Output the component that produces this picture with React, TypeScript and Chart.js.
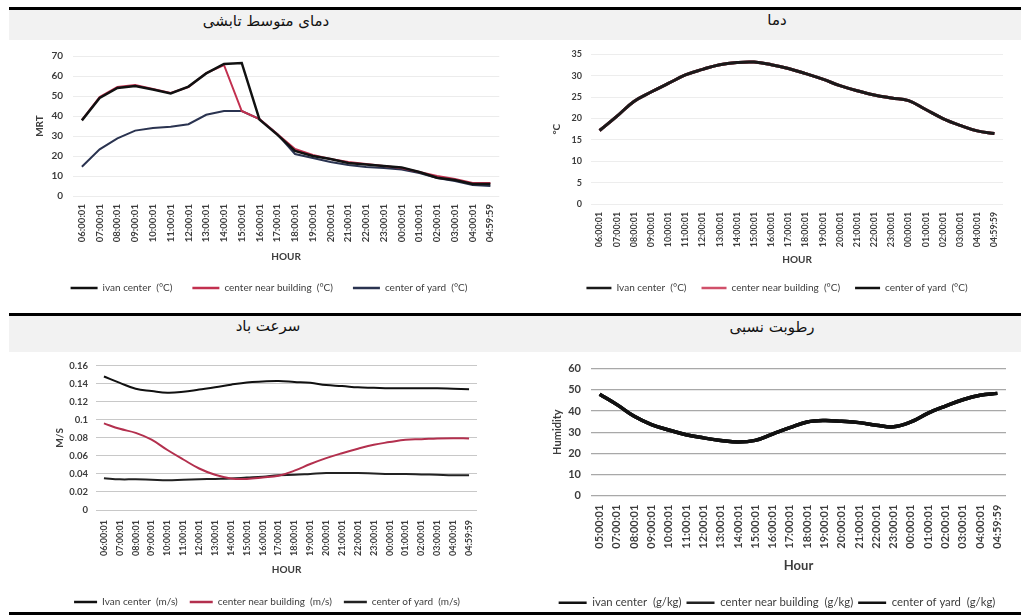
import React, { useEffect, useRef } from "react";
import { Chart, registerables } from "chart.js";

Chart.register(...registerables);

// ---------- data ----------
const hours = [
  "06:00:01", "07:00:01", "08:00:01", "09:00:01", "10:00:01", "11:00:01",
  "12:00:01", "13:00:01", "14:00:01", "15:00:01", "16:00:01", "17:00:01",
  "18:00:01", "19:00:01", "20:00:01", "21:00:01", "22:00:01", "23:00:01",
  "00:00:01", "01:00:01", "02:00:01", "03:00:01", "04:00:01", "04:59:59",
];
const hoursHumidity = [
  "05:00:01", "07:00:01", "08:00:01", "09:00:01", "10:00:01", "11:00:01",
  "12:00:01", "13:00:01", "14:00:01", "15:00:01", "16:00:01", "17:00:01",
  "18:00:01", "19:00:01", "20:00:01", "21:00:01", "22:00:01", "23:00:01",
  "00:00:01", "01:00:01", "02:00:01", "03:00:01", "04:00:01", "04:59:59",
];

// Mean radiant temperature (°C)
const mrtIvan = [37.8, 49, 54, 55, 53.2, 51.3, 54.7, 61.3, 66, 66.5, 38.2, 30.7, 22.5, 20, 18.5, 16.5, 15.7, 15, 14.3, 12, 9.1, 8, 6, 6];
const mrtNear = [38, 49.5, 54.5, 55.5, 53.5, 51.5, 54.5, 61.5, 65.5, 42.5, 38.5, 31, 23.5, 20.5, 18.5, 17, 16, 15, 14, 12, 10, 8.5, 6.5, 6.5];
const mrtYard = [14.6, 23.3, 28.8, 32.7, 34, 34.6, 35.9, 40.6, 42.5, 42.5, 38.5, 31, 21, 19, 17, 15.5, 14.5, 14, 13.2, 11.5, 9, 7.5, 5.5, 5];

// Air temperature (°C) – the three points coincide
const tempIvan = [17.2, 20.5, 24, 26.2, 28.2, 30.2, 31.5, 32.6, 33.1, 33.2, 32.6, 31.7, 30.5, 29.2, 27.7, 26.5, 25.5, 24.8, 24.2, 22.1, 20, 18.4, 17.1, 16.5];
const tempNear = [17.2, 20.5, 24, 26.2, 28.2, 30.2, 31.5, 32.6, 33.1, 33.2, 32.6, 31.7, 30.5, 29.2, 27.7, 26.5, 25.5, 24.8, 24.2, 22.1, 20, 18.4, 17.1, 16.5];
const tempYard = [17.2, 20.5, 24, 26.2, 28.2, 30.2, 31.5, 32.6, 33.1, 33.2, 32.6, 31.7, 30.5, 29.2, 27.7, 26.5, 25.5, 24.8, 24.2, 22.1, 20, 18.4, 17.1, 16.5];

// Wind speed (m/s)
const windIvan = [0.148, 0.141, 0.1345, 0.132, 0.130, 0.131, 0.1335, 0.136, 0.139, 0.1415, 0.1425, 0.143, 0.142, 0.141, 0.1385, 0.1375, 0.136, 0.1355, 0.135, 0.135, 0.135, 0.135, 0.1345, 0.134];
const windNear = [0.096, 0.090, 0.0855, 0.078, 0.0665, 0.056, 0.046, 0.039, 0.035, 0.0345, 0.036, 0.038, 0.0436, 0.051, 0.0575, 0.063, 0.068, 0.0724, 0.0753, 0.078, 0.0785, 0.0793, 0.0796, 0.0793];
const windYard = [0.0353, 0.034, 0.034, 0.0335, 0.033, 0.0335, 0.034, 0.0345, 0.035, 0.036, 0.037, 0.0385, 0.039, 0.040, 0.041, 0.041, 0.041, 0.0405, 0.040, 0.040, 0.0395, 0.039, 0.0385, 0.0385];

// Humidity – the three points coincide
const humIvan = [47.9, 43, 37.5, 33.6, 31, 28.8, 27.3, 26.1, 25.3, 26.1, 29.1, 32.1, 34.8, 35.5, 35.1, 34.5, 33.3, 32.5, 34.8, 39, 42.3, 45.3, 47.4, 48.3];
const humNear = [47.9, 43, 37.5, 33.6, 31, 28.8, 27.3, 26.1, 25.3, 26.1, 29.1, 32.1, 34.8, 35.5, 35.1, 34.5, 33.3, 32.5, 34.8, 39, 42.3, 45.3, 47.4, 48.3];
const humYard = [47.9, 43, 37.5, 33.6, 31, 28.8, 27.3, 26.1, 25.3, 26.1, 29.1, 32.1, 34.8, 35.5, 35.1, 34.5, 33.3, 32.5, 34.8, 39, 42.3, 45.3, 47.4, 48.3];

const titleMrt = "دمای متوسط تابشی";
const titleTemp = "دما";
const titleWind = "سرعت باد";
const titleHum = "رطوبت نسبی";

// ---------- chart panel ----------
type Series = { label: string; data: number[]; color: string; width: number };
type Cfg = {
  left: number; top: number; width: number; height: number;
  labels: string[];
  series: Series[];
  yMin: number; yMax: number; yStep: number;
  yFormat?: (v: number) => string;
  yTitle: string; xTitle: string;
  yTitlePad: number; xTitlePad: number;
  yTitleSize: number; xTitleSize: number;
  yScaleW: number; xScaleH: number;
  pad: { top: number; right: number; bottom: number; left: number };
  yTickSize: number; xTickSize: number; yTickPad: number; xTickPad: number;
  gridColor: string; gridWidth: number;
  legendSize: number; legendPad: number; legendBox: number;
  tension: number;
};

const FONT = "Lato, 'Open Sans', sans-serif";
const TXT = "#3c3c3c";

function ChartPanel({ cfg }: { cfg: Cfg }) {
  const ref = useRef<HTMLCanvasElement | null>(null);
  useEffect(() => {
    if (!ref.current) return;
    const chart = new Chart(ref.current, {
      type: "line",
      data: {
        labels: cfg.labels,
        datasets: cfg.series.map((s) => ({
          label: s.label,
          data: s.data,
          borderColor: s.color,
          backgroundColor: s.color,
          borderWidth: s.width,
          pointRadius: 0,
          tension: cfg.tension,
          fill: false,
        })),
      },
      options: {
        responsive: false,
        animation: false,
        devicePixelRatio: 1,
        layout: { padding: cfg.pad },
        plugins: {
          tooltip: { enabled: false },
          legend: {
            position: "bottom",
            labels: {
              boxWidth: cfg.legendBox,
              boxHeight: 2.5,
              padding: cfg.legendPad,
              color: TXT,
              font: { family: FONT, size: cfg.legendSize },
              generateLabels: (c: any) => {
                const items = Chart.defaults.plugins.legend.labels.generateLabels(c);
                return items.map((it: any) => ({ ...it, lineWidth: 0 }));
              },
            },
          },
        },
        scales: {
          x: {
            offset: true,
            grid: { display: false, drawTicks: false },
            border: { display: false },
            ticks: {
              autoSkip: false,
              minRotation: 90,
              maxRotation: 90,
              padding: cfg.xTickPad,
              color: TXT,
              font: { family: FONT, size: cfg.xTickSize, weight: "bold" },
            },
            title: {
              display: true,
              text: cfg.xTitle,
              color: TXT,
              font: { family: FONT, size: cfg.xTitleSize, weight: "bold" },
              padding: { top: 0, bottom: cfg.xTitlePad },
            },
            afterFit: (s: any) => { s.height = cfg.xScaleH; },
          },
          y: {
            min: cfg.yMin,
            max: cfg.yMax,
            grid: { color: cfg.gridColor, lineWidth: cfg.gridWidth, drawTicks: false },
            border: { display: false },
            ticks: {
              stepSize: cfg.yStep,
              padding: cfg.yTickPad,
              color: TXT,
              font: { family: FONT, size: cfg.yTickSize, weight: "bold" },
              callback: (v: any) => (cfg.yFormat ? cfg.yFormat(Number(v)) : String(v)),
            },
            title: {
              display: true,
              text: cfg.yTitle,
              color: TXT,
              font: { family: FONT, size: cfg.yTitleSize, weight: "bold" },
              padding: { top: cfg.yTitlePad, bottom: 0 },
            },
            afterFit: (s: any) => { s.width = cfg.yScaleW; },
          },
        },
      },
    } as any);
    return () => chart.destroy();
  }, [cfg]);
  return (
    <canvas
      ref={ref}
      width={cfg.width}
      height={cfg.height}
      style={{ position: "absolute", left: cfg.left, top: cfg.top, width: cfg.width, height: cfg.height }}
    />
  );
}

const RED = "#c2304f";

const cfgMrt: Cfg = {
  left: 9, top: 40, width: 501, height: 265,
  labels: hours,
  series: [
    { label: "ivan center  (°C)", data: mrtIvan, color: "#111111", width: 2.5 },
    { label: "center near building  (°C)", data: mrtNear, color: RED, width: 2 },
    { label: "center of yard  (°C)", data: mrtYard, color: "#2a3350", width: 2 },
  ],
  yMin: 0, yMax: 70, yStep: 10,
  yTitle: "MRT", xTitle: "HOUR",
  yTitlePad: 2, xTitlePad: 0, yTitleSize: 10, xTitleSize: 10,
  yScaleW: 41, xScaleH: 67,
  pad: { top: 8, right: 4, bottom: 2, left: 23 },
  yTickSize: 10, xTickSize: 9.6, yTickPad: 10, xTickPad: 8,
  gridColor: "#ececec", gridWidth: 1,
  legendSize: 10, legendPad: 20, legendBox: 27,
  tension: 0,
};

const cfgTemp: Cfg = {
  left: 510, top: 40, width: 511, height: 265,
  labels: hours,
  series: [
    { label: "Ivan center  (°C)", data: tempIvan, color: "#1a1a1a", width: 3 },
    { label: "center near building  (°C)", data: tempNear, color: "#d0506a", width: 3 },
    { label: "center of yard  (°C)", data: tempYard, color: "#111111", width: 3 },
  ],
  yMin: 0, yMax: 35, yStep: 5,
  yTitle: "°C", xTitle: "HOUR",
  yTitlePad: 0, xTitlePad: 2, yTitleSize: 10, xTitleSize: 10,
  yScaleW: 40, xScaleH: 64,
  pad: { top: 12, right: 18, bottom: 2, left: 41 },
  yTickSize: 9, xTickSize: 8.8, yTickPad: 9, xTickPad: 8,
  gridColor: "#ededed", gridWidth: 1,
  legendSize: 10, legendPad: 15, legendBox: 25,
  tension: 0.4,
};

const cfgWind: Cfg = {
  left: 9, top: 352, width: 481, height: 265,
  labels: hours,
  series: [
    { label: "Ivan center  (m/s)", data: windIvan, color: "#111111", width: 2 },
    { label: "center near building  (m/s)", data: windNear, color: "#b3304e", width: 2 },
    { label: "center of yard  (m/s)", data: windYard, color: "#222222", width: 2 },
  ],
  yMin: 0, yMax: 0.16, yStep: 0.02,
  yFormat: (v) => String(Number(v.toFixed(2))),
  yTitle: "M/S", xTitle: "HOUR",
  yTitlePad: 3, xTitlePad: 9, yTitleSize: 10, xTitleSize: 10,
  yScaleW: 45, xScaleH: 75,
  pad: { top: 11, right: 7, bottom: 0, left: 42 },
  yTickSize: 9.5, xTickSize: 9, yTickPad: 8, xTickPad: 10,
  gridColor: "#c8c8c8", gridWidth: 1,
  legendSize: 10, legendPad: 12, legendBox: 23,
  tension: 0.4,
};

const cfgHum: Cfg = {
  left: 490, top: 352, width: 531, height: 267,
  labels: hoursHumidity,
  series: [
    { label: "ivan center  (g/kg)", data: humIvan, color: "#111111", width: 3.5 },
    { label: "center near building  (g/kg)", data: humNear, color: "#222222", width: 3.5 },
    { label: "center of yard  (g/kg)", data: humYard, color: "#111111", width: 3.5 },
  ],
  yMin: 0, yMax: 60, yStep: 10,
  yTitle: "Humidity", xTitle: "Hour",
  yTitlePad: 3, xTitlePad: 19, yTitleSize: 11, xTitleSize: 13,
  yScaleW: 43, xScaleH: 96.5,
  pad: { top: 10, right: 15, bottom: 0.5, left: 58 },
  yTickSize: 11, xTickSize: 11, yTickPad: 10, xTickPad: 9,
  gridColor: "#a8a8a8", gridWidth: 1.2,
  legendSize: 11.3, legendPad: 5, legendBox: 28,
  tension: 0.4,
};

const persian: React.CSSProperties = {
  position: "absolute",
  fontFamily: "'DejaVu Sans', sans-serif",
  fontSize: 15,
  color: "#111",
  transform: "translateX(-50%)",
  whiteSpace: "nowrap",
  direction: "rtl",
};

export default function App() {
  return (
    <div style={{ position: "absolute", left: 0, top: 0, width: 1021, height: 615, overflow: "hidden", background: "#fff" }}>
      {/* title bands */}
      <div style={{ position: "absolute", left: 9, top: 10, width: 1012, height: 30, background: "#f2f2f2" }} />
      <div style={{ position: "absolute", left: 9, top: 316, width: 1012, height: 36, background: "#f2f2f2" }} />
      <div style={{ ...persian, left: 266, top: 12 }}>{titleMrt}</div>
      <div style={{ ...persian, left: 777, top: 11 }}>{titleTemp}</div>
      <div style={{ ...persian, left: 268, top: 317 }}>{titleWind}</div>
      <div style={{ ...persian, left: 772, top: 318 }}>{titleHum}</div>

      <ChartPanel cfg={cfgMrt} />
      <ChartPanel cfg={cfgTemp} />
      <ChartPanel cfg={cfgWind} />
      <ChartPanel cfg={cfgHum} />

      {/* black rules */}
      <div style={{ position: "absolute", left: 9, top: 7, width: 1012, height: 3, background: "#000" }} />
      <div style={{ position: "absolute", left: 9, top: 313, width: 1012, height: 3, background: "#000" }} />
      <div style={{ position: "absolute", left: 9, top: 612, width: 1012, height: 3, background: "#000" }} />
    </div>
  );
}
